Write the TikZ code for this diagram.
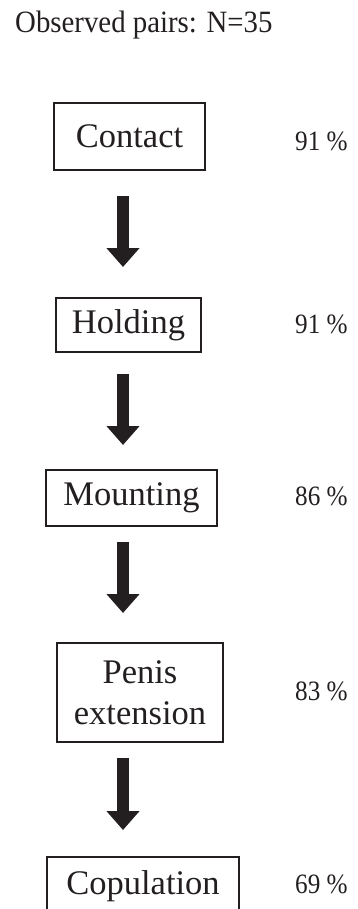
\documentclass[tikz,border=0pt]{standalone}
\usepackage{fontspec}
\setmainfont{Liberation Serif}
\usetikzlibrary{arrows.meta}
\definecolor{ink}{HTML}{231F20}
\begin{document}
\begin{tikzpicture}[x=1pt,y=-1pt,
  stage/.style={draw=ink,line width=2.7pt,inner sep=0pt,align=center,text=ink,
    font=\fontsize{34.5}{41}\selectfont},
  pct/.style={anchor=base west,inner sep=0pt,text=ink,font=\fontsize{28}{32}\selectfont},
  flow/.style={draw=ink,line width=11.5pt,-{Triangle[width=32pt,length=19pt]}}]
\useasboundingbox (0,0) rectangle (358,909);
\clip (0,0) rectangle (358,909);
\node[anchor=base west,inner sep=0pt,text=ink,font=\fontsize{31}{36}\selectfont] (title) at (15,33) {\scalebox{0.93}[1]{Observed pairs: N=35}};
\node[stage,minimum width=151pt,minimum height=67pt] (contact) at (129.5,136.5) {Contact};
\node[stage,minimum width=145pt,minimum height=54pt] (holding) at (128.5,325) {Holding};
\node[stage,minimum width=171pt,minimum height=56pt] (mounting) at (131.5,498) {Mounting};
\node[stage,minimum width=166pt,minimum height=99pt] (penis) at (140,692.5) {Penis\\extension};
\node[stage,minimum width=192pt,minimum height=58pt] (copulation) at (143,886) {Copulation};
\node[pct] (p1) at (295,151) {\scalebox{0.9}[1]{91 \%}};
\node[pct] (p2) at (295,333) {\scalebox{0.9}[1]{91 \%}};
\node[pct] (p3) at (295,505) {\scalebox{0.9}[1]{86 \%}};
\node[pct] (p4) at (295,700) {\scalebox{0.9}[1]{83 \%}};
\node[pct] (p5) at (295,893) {\scalebox{0.9}[1]{69 \%}};
\coordinate (a1s) at (123,196); \coordinate (a1e) at (123,267);
\coordinate (a2s) at (123,374); \coordinate (a2e) at (123,445);
\coordinate (a3s) at (123,542); \coordinate (a3e) at (123,613);
\coordinate (a4s) at (123,758); \coordinate (a4e) at (123,830);
\draw[flow] (a1s) -- (a1e);
\draw[flow] (a2s) -- (a2e);
\draw[flow] (a3s) -- (a3e);
\draw[flow] (a4s) -- (a4e);
\end{tikzpicture}
\end{document}
